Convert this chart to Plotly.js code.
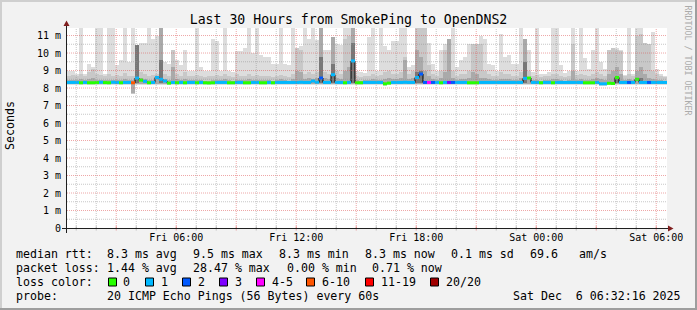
<!DOCTYPE html>
<html><head><meta charset="utf-8">
<script src="https://cdn.plot.ly/plotly-3.0.1.min.js"></script>
<style>html,body{margin:0;padding:0;background:#f2f2f2;}#chart{width:697px;height:310px;}</style>
</head><body><div id="chart"></div>
<script>
// ---------- DATA ----------
const startTime = '2025-12-05 00:32:16';
const endTime   = '2025-12-06 06:32:16';
const stepMinutes = 12;

// top of smoke (max ping) per 12-minute column, ms
const smokeMax = [
 8.95,8.95,8.8,12,8.8,9.35,9.2,12,12,8.8,
 12,12,9.3,9.6,12,9.5,12,10.45,10.6,10.6,
 12,10.8,11.0,12,9.5,9.4,10.2,9.6,9.3,10.2,
 9.0,9.0,12,9.2,8.95,8.95,10.8,10.7,9.0,12,
 9.0,8.9,10.1,10.1,10.3,12,10.0,12,9.9,9.8,
 9.8,9.35,9.35,12,9.4,9.3,12,10.3,10.4,12,
 10.8,12,10.75,12,10.2,10.2,10.9,10.5,10.45,12,
 12,12,8.95,8.9,8.85,10.9,12,9.0,12,10.4,
 10.2,10.7,10.7,12,12,9.2,9.3,12,12,12,
 10.6,9.35,9.0,10.2,10.5,10.8,12,9.2,9.6,9.8,
 10.5,10.4,10.4,11.0,10.8,9.4,9.3,9.0,11.1,9.8,
 9.9,9.4,9.4,12,10.8,10.2,8.9,12,8.8,8.8,
 8.9,12,12,9.3,8.85,8.95,12,9.0,12,9.7,
 9.1,10.2,12,9.5,9.1,9.6,9.7,10.3,10.2,8.75,
 12,8.8,12,12,10.5,10.5,11.2,9.1,8.8,8.7
];
// inner smoke bands
const smokeMid = [
 8.7,8.75,8.7,8.8,8.7,8.9,9.1,8.8,8.75,8.7,
 8.8,8.7,8.75,8.7,8.85,8.7,8.7,10.45,8.9,8.8,
 8.7,8.75,8.8,12,8.8,8.7,10.2,8.8,8.7,8.9,
 8.7,8.7,8.75,8.7,8.65,8.7,8.7,8.75,8.7,8.8,
 8.7,8.65,8.8,8.7,8.7,8.8,8.7,8.75,8.7,8.7,
 8.7,8.65,8.7,8.75,8.7,8.65,8.8,10.3,10.2,8.8,
 8.9,8.8,8.9,12,8.9,8.8,10.9,9.0,8.8,10.8,
 11.0,12,8.7,8.65,8.7,8.7,8.8,8.7,8.75,8.9,
 9.0,8.8,8.8,8.9,9.8,8.8,9.0,12,12,12,
 9.3,8.8,8.7,9.0,10.2,10.8,9.0,8.7,8.8,8.8,
 9.0,10.5,10.5,10.5,9.0,8.8,8.7,8.7,8.9,8.8,
 8.8,8.7,8.7,8.9,10.8,9.0,8.7,8.75,8.65,8.7,
 8.7,8.8,8.8,8.7,8.65,8.7,10.5,8.75,8.8,8.75,
 8.7,8.8,8.9,8.8,8.7,10.2,10.3,10.2,10.1,8.7,
 8.8,8.7,11.0,11.1,10.6,10.5,9.0,8.8,8.7,8.65
];
const smokeDark = [
 8.45,8.45,8.45,8.5,8.45,8.5,8.6,8.45,8.45,8.45,
 8.45,8.45,8.45,8.45,8.5,8.45,8.45,10.45,8.55,8.5,
 8.45,8.45,8.5,11.5,8.5,8.45,9.2,8.5,8.45,8.5,
 8.45,8.45,8.45,8.45,8.42,8.42,8.45,8.45,8.45,8.5,
 8.45,8.42,8.45,8.45,8.45,8.5,8.45,8.45,8.45,8.45,
 8.45,8.42,8.45,8.5,8.45,8.42,8.5,9.0,8.9,8.5,
 8.55,8.5,8.55,12,8.55,8.5,10.9,8.6,8.5,9.0,
 9.2,12,8.45,8.42,8.45,8.45,8.5,8.45,8.45,8.5,
 8.55,8.5,8.5,8.55,9.6,8.5,8.6,10.2,9.8,9.0,
 8.7,8.5,8.45,8.6,8.9,10.8,8.6,8.45,8.5,8.5,
 8.55,8.9,8.8,8.6,8.55,8.5,8.45,8.45,8.5,8.5,
 8.5,8.45,8.45,8.55,10.8,8.6,8.45,8.45,8.42,8.45,
 8.45,8.5,8.5,8.45,8.42,8.45,9.0,8.45,8.5,8.45,
 8.45,8.5,8.55,8.5,8.45,8.8,9.0,9.2,8.8,8.45,
 8.5,8.45,9.0,9.2,8.8,8.6,8.5,8.45,8.45,8.42
];
const smokeCore = [
 null,null,null,null,null,null,null,null,null,null,
 null,null,null,null,null,null,null,10.45,null,null,
 null,null,null,9.6,null,null,null,null,null,null,
 null,null,null,null,null,null,null,null,null,null,
 null,null,null,null,null,null,null,null,null,null,
 null,null,null,null,null,null,null,null,null,null,
 null,null,null,9.8,null,null,9.4,null,null,null,
 null,10.6,null,null,null,null,null,null,null,null,
 null,null,null,null,null,null,null,8.9,9.0,null,
 null,null,null,null,null,null,null,null,null,null,
 null,null,null,null,null,null,null,null,null,null,
 null,null,null,null,9.5,null,null,null,null,null,
 null,null,null,null,null,null,null,null,null,null,
 null,null,null,null,null,null,null,8.65,null,null,
 null,null,null,8.6,null,null,null,null,null,null
];
// bottom of smoke (min ping)
const smokeMin = [
 8.18,8.18,8.18,8.18,8.18,8.18,8.18,8.18,8.18,8.18,
 8.18,8.18,8.18,8.18,8.18,8.18,7.65,8.18,8.18,8.18,
 8.18,8.18,8.18,8.18,8.18,8.18,8.18,8.18,8.18,8.18,
 8.18,8.18,8.18,8.18,8.18,8.18,8.18,8.18,8.18,8.18,
 8.18,8.18,8.18,8.18,8.18,8.18,8.18,8.18,8.18,8.18,
 8.18,8.18,8.18,8.18,8.18,8.18,8.18,8.18,8.18,8.18,
 8.18,8.18,8.18,8.18,8.18,8.18,8.18,8.18,8.18,8.18,
 8.18,8.18,8.18,8.18,8.18,8.18,8.18,8.18,8.18,8.14,
 8.18,8.18,8.18,8.18,8.18,8.18,8.18,8.18,8.18,8.18,
 8.18,8.18,8.18,8.18,8.18,8.18,8.18,8.18,8.18,8.18,
 8.18,8.18,8.18,8.18,8.18,8.18,8.18,8.18,8.18,8.18,
 8.18,8.18,8.18,8.18,8.18,8.18,8.18,8.18,8.18,8.18,
 8.18,8.18,8.18,8.18,8.18,8.18,8.18,8.18,8.18,8.18,
 8.18,8.18,8.18,8.12,8.12,8.18,8.18,8.18,8.18,8.18,
 8.18,8.18,8.18,8.18,8.18,8.18,8.18,8.18,8.18,8.18
];
// median rtt, ms
const medianRtt = [
 8.32,8.32,8.32,8.3,8.32,8.3,8.3,8.31,8.33,8.31,
 8.3,8.33,8.32,8.3,8.32,8.32,8.3,8.57,8.45,8.38,
 8.3,8.32,8.6,8.5,8.4,8.28,8.32,8.3,8.32,8.3,
 8.32,8.32,8.3,8.32,8.3,8.29,8.3,8.32,8.32,8.32,
 8.3,8.3,8.32,8.32,8.3,8.3,8.32,8.32,8.3,8.3,
 8.32,8.3,8.32,8.32,8.32,8.32,8.32,8.32,8.33,8.32,
 8.32,8.4,8.33,8.57,8.32,8.32,8.76,8.32,8.32,8.3,
 8.32,9.55,8.3,8.3,8.32,8.32,8.32,8.32,8.32,8.24,
 8.28,8.32,8.32,8.32,8.33,8.32,8.32,8.6,8.8,8.32,
 8.32,8.32,8.32,8.3,8.32,8.32,8.32,8.32,8.32,8.32,
 8.3,8.3,8.3,8.32,8.32,8.32,8.32,8.32,8.32,8.32,
 8.32,8.32,8.32,8.32,8.55,8.57,8.32,8.32,8.3,8.32,
 8.32,8.3,8.32,8.32,8.32,8.32,8.32,8.32,8.32,8.3,
 8.3,8.3,8.32,8.24,8.24,8.27,8.26,8.6,8.32,8.32,
 8.32,8.32,8.5,8.32,8.32,8.32,8.32,8.32,8.32,8.32
];
// lost pings per column, as index into the loss legend
const lossIdx = [
 1,1,1,0,1,0,0,0,1,0,
 0,1,1,0,1,1,5,1,0,1,
 0,1,1,1,1,0,1,0,1,0,
 1,1,0,1,0,0,0,1,1,1,
 0,0,1,1,0,0,1,1,0,0,
 1,0,1,1,1,1,1,1,1,1,
 1,1,1,2,1,1,1,1,1,0,
 1,1,0,0,1,1,1,1,1,0,
 0,1,1,1,1,1,1,1,2,2,
 4,2,1,0,1,3,2,1,1,1,
 0,0,0,1,1,1,1,1,1,1,
 1,1,1,1,1,0,1,1,0,1,
 1,0,1,1,1,1,1,1,1,0,
 0,0,1,1,1,0,0,0,1,1,
 2,1,0,1,1,2,1,1,1,1
];
const lossLabels = ['0','1','2','3','4-5','6-10','11-19','20/20'];
const lossColors = ['#26ff00','#00b8ff','#0059ff','#7e00ff','#ff00ff','#ff5500','#ff0000','#a10000'];

const yTickVals = [0,1,2,3,4,5,6,7,8,9,10,11];
const yTickText = ['0','1 m','2 m','3 m','4 m','5 m','6 m','7 m','8 m','9 m','10 m','11 m'];
const xTickVals = ['2025-12-05 06:00','2025-12-05 12:00','2025-12-05 18:00','2025-12-06 00:00','2025-12-06 06:00'];
const xTickText = ['Fri 06:00','Fri 12:00','Fri 18:00','Sat 00:00','Sat 06:00'];

const rttStats  = ['8.3 ms avg','9.5 ms max','8.3 ms min','8.3 ms now','0.1 ms sd','69.6','am/s'];
const lossStats = ['1.44 % avg','28.47 % max','0.00 % min','0.71 % now'];
const probeText = '20 ICMP Echo Pings (56 Bytes) every 60s';
const stampText = 'Sat Dec\u00a0 6 06:32:16 2025';

// ---------- BUILD ----------
const MONO = 'DejaVu Sans Mono, monospace';
const T0 = Date.UTC(2025, 11, 5, 0, 32, 16);
const T1 = Date.UTC(2025, 11, 6, 6, 32, 16);
const STEP = stepMinutes * 60 * 1000;
const xCenters = smokeMax.map((_, i) => T0 + (i + 0.5) * STEP);
const xStarts = smokeMax.map((_, i) => T0 + i * STEP);

function band(tops, color, lift) {
  const base = smokeMin.map(v => v + lift);
  return {
    type: 'bar', x: xCenters, base: base,
    y: tops.map((t, i) => (t == null ? null : Math.max(t - base[i], 0))),
    width: STEP, marker: {color: color, line: {width: 0}},
    hoverinfo: 'skip', showlegend: false
  };
}
const traces = [
  band(smokeMax, '#dddddd', 0),
  band(smokeMid, '#c8c8c8', 0.03),
  band(smokeDark, '#aaaaaa', 0.06),
  band(smokeCore, '#777777', 0.08),
  {type: 'scatter', mode: 'lines', x: xStarts.concat([T1]), y: medianRtt.concat([medianRtt[medianRtt.length - 1]]),
   line: {shape: 'hv', color: '#000', width: 1}, hoverinfo: 'skip', showlegend: false}
];
// median line coloured by loss: one trace per loss colour
lossColors.forEach((c, k) => {
  const xs = [], ys = [];
  lossIdx.forEach((l, i) => {
    if (l !== k) return;
    xs.push(xStarts[i], xStarts[i] + STEP, null);
    ys.push(medianRtt[i], medianRtt[i], null);
  });
  if (xs.length) traces.push({type: 'scatter', mode: 'lines', x: xs, y: ys, connectgaps: false,
    line: {color: c, width: 3}, hoverinfo: 'skip', showlegend: false});
});

// pixel -> paper helpers (plot area 67..667 x 28..228)
const PL = 67, PW = 600, PB = 228, PH = 200;
const px = p => (p - PL) / PW;
const py = p => (PB - p) / PH;

const shapes = [];
const GRID = 'rgba(143,143,143,0.5)', MGRID = 'rgba(222,79,79,0.5)';
// vertical grid every hour, major every 3 hours
for (let h = 0; h <= 31; h++) {
  const t = Date.UTC(2025, 11, 5, h);
  if (t <= T0 || t >= T1) continue;
  const major = h % 3 === 0;
  shapes.push({type: 'line', xref: 'x', yref: 'paper', x0: t, x1: t, y0: 0, y1: 1, layer: 'above',
    line: {color: major ? MGRID : GRID, width: 1, dash: '1px,1px'}});
  shapes.push({type: 'line', xref: 'x', yref: 'paper', x0: t, x1: t, y0: py(226), y1: py(230.5), layer: 'above',
    line: {color: major ? MGRID : GRID, width: 1}});
}
// horizontal grid every 0.5 ms, major every 1 ms
for (let k = 1; k <= 22; k++) {
  const v = k / 2;
  shapes.push({type: 'line', xref: 'paper', yref: 'y', x0: 0, x1: 1, y0: v, y1: v, layer: 'above',
    line: {color: (k % 2 === 0) ? MGRID : GRID, width: 1, dash: '1px,1px'}});
}
// axes + arrows
shapes.push({type: 'line', xref: 'paper', yref: 'paper', x0: px(62), x1: px(669), y0: py(228.5), y1: py(228.5), layer: 'above', line: {color: '#1f1f1f', width: 1}});
shapes.push({type: 'line', xref: 'paper', yref: 'paper', x0: px(66.5), x1: px(66.5), y0: py(233), y1: py(24), layer: 'above', line: {color: '#1f1f1f', width: 1}});
shapes.push({type: 'path', xref: 'paper', yref: 'paper', layer: 'above', fillcolor: '#801f1f', line: {width: 0},
  path: `M ${px(668)} ${py(225.5)} L ${px(673.5)} ${py(228.5)} L ${px(668)} ${py(231.5)} Z`});
shapes.push({type: 'path', xref: 'paper', yref: 'paper', layer: 'above', fillcolor: '#801f1f', line: {width: 0},
  path: `M ${px(63.5)} ${py(26)} L ${px(66.5)} ${py(20.5)} L ${px(69.5)} ${py(26)} Z`});
// frame shading
const rectPx = (x0, y0, x1, y1, c) => shapes.push({type: 'rect', xref: 'paper', yref: 'paper', layer: 'above',
  x0: px(x0), x1: px(x1), y0: py(y0), y1: py(y1), fillcolor: c, line: {width: 0}});
rectPx(0, 0, 697, 2, '#cfcfcf');
rectPx(0, 0, 2, 310, '#cfcfcf');
rectPx(0, 308, 697, 310, '#9e9e9e');
rectPx(695, 0, 697, 310, '#9e9e9e');
// loss colour swatches
const swatchX = [108.5, 145.5, 182.5, 219.5, 256.5, 306.5, 365.5, 430.5];
const labelX  = [123.3, 161, 198.3, 235, 271.7, 321.7, 380.7, 446];
lossColors.forEach((c, i) => {
  shapes.push({type: 'rect', xref: 'paper', yref: 'paper', layer: 'above',
    x0: px(swatchX[i]), x1: px(swatchX[i] + 8), y0: py(278), y1: py(286), fillcolor: c, line: {color: '#000', width: 1}});
});

const annotations = [];
const note = (text, x, y, extra) => annotations.push(Object.assign({
  text: text, xref: 'paper', yref: 'paper', x: px(x), y: py(y), xanchor: 'left', yanchor: 'middle',
  showarrow: false, borderpad: 0, borderwidth: 0, font: {family: MONO, size: 11.6, color: '#000'}}, extra || {}));
const R1 = 254.3, R2 = 268.3, R3 = 282.3, R4 = 296.2;
note('median rtt:', 16, R1);
[107.3, 193.3, 279.3, 365.3, 451, 530, 579.3].forEach((x, i) => note(rttStats[i], x, R1));
note('packet loss:', 16, R2);
[107.3, 193.3, 286.7, 372.3].forEach((x, i) => note(lossStats[i], x, R2));
note('loss color:', 16, R3);
lossLabels.forEach((l, i) => note(l, labelX[i], R3));
note('probe:', 16, R4);
note(probeText, 107.3, R4);
note(stampText, 513.3, R4);
note('Seconds', 10, 126, {xanchor: 'center', textangle: -90});
note('RRDTOOL / TOBI OETIKER', 687.5, 60, {xanchor: 'center', textangle: 90, font: {family: MONO, size: 8.3, color: '#ababab'}});

const layout = {
  width: 697, height: 310,
  margin: {l: 67, r: 30, t: 28, b: 82, pad: 0},
  paper_bgcolor: '#f2f2f2', plot_bgcolor: '#ffffff',
  font: {family: MONO, size: 10, color: '#000'},
  title: {text: 'Last 30 Hours from SmokePing to OpenDNS2', font: {family: MONO, size: 13.2, color: '#000'},
          x: 0.5, xref: 'container', xanchor: 'center', y: 1 - 19.3 / 310, yref: 'container', yanchor: 'middle'},
  barmode: 'overlay', bargap: 0, showlegend: false, hovermode: false,
  xaxis: {type: 'date', range: [startTime, endTime], tickmode: 'array', tickvals: xTickVals, ticktext: xTickText,
          showgrid: false, zeroline: false, showline: false, ticks: '', ticklabelstandoff: 2,
          tickfont: {family: MONO, size: 10, color: '#000'}, fixedrange: true},
  yaxis: {range: [0, 11.43], tickmode: 'array', tickvals: yTickVals, ticktext: yTickText,
          showgrid: false, zeroline: false, showline: false, ticks: '', ticklabelstandoff: 5,
          tickfont: {family: MONO, size: 10, color: '#000'}, fixedrange: true},
  shapes: shapes, annotations: annotations
};
Plotly.newPlot('chart', traces, layout, {staticPlot: true, displayModeBar: false});
</script></body></html>
